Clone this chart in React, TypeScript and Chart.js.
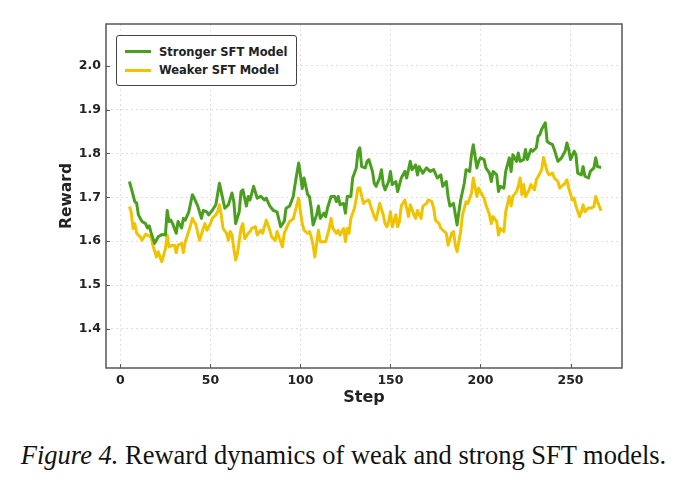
import React, { useEffect, useRef } from "react";
import { Chart, registerables } from "chart.js";

Chart.register(...registerables);

const strongSteps = [5,7,8,9,10,12,14,15,16,17,19,21,23,25,26,27,28,29,31,32,34,35,36,38,40,41,43,45,46,48,49,51,53,55,56,58,60,62,63,64,66,67,68,70,71,72,74,76,78,80,81,83,85,87,89,91,92,94,96,97,99,100,101,102,104,105,106,107,109,110,111,113,114,115,117,119,120,121,122,124,125,126,128,129,131,132,133,134,136,137,138,140,141,142,144,145,146,147,149,150,151,153,154,156,158,159,161,162,164,165,166,168,170,172,174,176,178,179,181,182,183,185,187,188,189,191,192,194,195,196,198,199,200,202,203,205,206,207,209,210,211,213,214,216,217,218,220,221,222,224,225,226,228,229,231,232,233,234,236,237,238,240,241,243,245,247,248,249,250,252,253,254,256,257,258,260,261,263,264,265,267];
const strongValues = [1.736,1.706,1.69,1.687,1.66,1.645,1.64,1.63,1.635,1.62,1.595,1.61,1.615,1.614,1.67,1.645,1.648,1.64,1.618,1.645,1.63,1.652,1.648,1.667,1.706,1.698,1.68,1.652,1.67,1.667,1.66,1.67,1.683,1.732,1.713,1.675,1.683,1.71,1.69,1.64,1.667,1.713,1.717,1.68,1.702,1.694,1.725,1.698,1.702,1.694,1.698,1.68,1.67,1.667,1.633,1.645,1.675,1.68,1.702,1.729,1.778,1.751,1.72,1.744,1.706,1.702,1.675,1.637,1.66,1.68,1.652,1.664,1.656,1.675,1.702,1.702,1.69,1.702,1.683,1.686,1.664,1.702,1.702,1.744,1.767,1.805,1.813,1.77,1.767,1.782,1.786,1.759,1.732,1.725,1.744,1.763,1.729,1.717,1.736,1.759,1.729,1.736,1.713,1.744,1.759,1.744,1.782,1.763,1.774,1.751,1.77,1.755,1.767,1.759,1.763,1.744,1.751,1.725,1.736,1.702,1.68,1.686,1.637,1.667,1.694,1.732,1.763,1.759,1.797,1.82,1.767,1.782,1.79,1.786,1.767,1.755,1.736,1.759,1.751,1.713,1.725,1.721,1.759,1.79,1.759,1.797,1.782,1.801,1.782,1.786,1.809,1.786,1.809,1.805,1.813,1.839,1.843,1.855,1.87,1.828,1.824,1.82,1.809,1.782,1.79,1.805,1.824,1.809,1.786,1.805,1.797,1.755,1.751,1.77,1.748,1.744,1.759,1.767,1.79,1.77,1.768];

const weakSteps = [5,6,7,8,9,11,12,14,15,17,18,20,21,23,24,25,26,27,29,30,31,32,34,35,36,37,39,40,42,43,44,46,47,48,50,51,53,54,55,56,57,59,60,61,62,63,64,65,67,68,69,71,72,73,75,76,78,79,80,81,83,84,86,87,89,90,91,93,94,96,97,99,100,101,102,104,105,106,107,108,109,110,111,113,114,116,117,118,120,121,122,124,125,126,127,128,130,131,132,133,135,136,138,139,141,142,143,144,146,147,148,149,150,151,153,154,155,156,158,159,160,161,163,164,165,167,168,170,171,173,174,175,177,178,180,181,182,184,185,186,187,188,189,190,192,193,195,196,198,199,200,202,203,205,206,207,209,210,211,213,214,216,217,218,220,221,222,223,224,225,227,228,230,231,233,234,235,237,238,240,241,243,244,245,247,248,249,251,252,253,255,256,257,258,260,261,263,264,265,267];
const weakValues = [1.679,1.667,1.629,1.64,1.618,1.61,1.602,1.616,1.614,1.61,1.591,1.564,1.576,1.553,1.568,1.583,1.614,1.587,1.591,1.591,1.574,1.591,1.595,1.574,1.599,1.61,1.637,1.652,1.637,1.618,1.602,1.629,1.64,1.625,1.64,1.652,1.66,1.667,1.683,1.66,1.629,1.618,1.602,1.622,1.614,1.583,1.557,1.572,1.629,1.64,1.606,1.618,1.622,1.629,1.633,1.614,1.625,1.618,1.633,1.648,1.625,1.61,1.602,1.622,1.599,1.587,1.618,1.637,1.645,1.651,1.667,1.698,1.667,1.64,1.625,1.618,1.622,1.61,1.591,1.564,1.595,1.625,1.599,1.599,1.599,1.629,1.652,1.629,1.618,1.625,1.614,1.629,1.599,1.629,1.618,1.652,1.675,1.698,1.721,1.721,1.686,1.69,1.694,1.68,1.656,1.648,1.667,1.686,1.66,1.64,1.633,1.645,1.667,1.633,1.66,1.633,1.645,1.68,1.694,1.675,1.656,1.683,1.66,1.652,1.67,1.652,1.68,1.686,1.694,1.69,1.675,1.648,1.64,1.629,1.622,1.618,1.591,1.618,1.622,1.591,1.576,1.599,1.622,1.66,1.69,1.686,1.709,1.744,1.702,1.721,1.713,1.698,1.683,1.66,1.64,1.656,1.645,1.614,1.629,1.622,1.667,1.702,1.68,1.702,1.713,1.725,1.744,1.706,1.729,1.702,1.717,1.729,1.717,1.74,1.755,1.763,1.791,1.759,1.751,1.755,1.744,1.736,1.721,1.725,1.732,1.74,1.721,1.694,1.698,1.68,1.656,1.667,1.683,1.667,1.676,1.675,1.679,1.702,1.69,1.669];

const xTickValues = [0, 50, 100, 150, 200, 250];
const yTickValues = [1.4, 1.5, 1.6, 1.7, 1.8, 1.9, 2.0];
const seriesLabels = ["Stronger SFT Model", "Weaker SFT Model"];
const xTitle = "Step";
const yTitle = "Reward";
const captionLead = "Figure 4.";
const captionText = " Reward dynamics of weak and strong SFT models.";

const GREEN = "#4a9f1f";
const YELLOW = "#f0c300";
const AXIS_FONT = "'DejaVu Sans', sans-serif";

const zip = (xs: number[], ys: number[]) => xs.map((x, i) => ({ x, y: ys[i] }));

const framePlugin = {
  id: "frame",
  afterDraw(chart: any) {
    const { ctx, chartArea } = chart;
    const { left, right, top, bottom } = chartArea;
    ctx.save();
    ctx.strokeStyle = "#555";
    ctx.lineWidth = 1.5;
    ctx.strokeRect(left, top, right - left, bottom - top);
    ctx.lineWidth = 1;
    const xs = chart.scales.x;
    const ys = chart.scales.y;
    ctx.beginPath();
    xTickValues.forEach((v) => {
      const px = Math.round(xs.getPixelForValue(v)) + 0.5;
      ctx.moveTo(px, bottom);
      ctx.lineTo(px, bottom - 4);
    });
    yTickValues.forEach((v) => {
      const py = Math.round(ys.getPixelForValue(v)) + 0.5;
      ctx.moveTo(left, py);
      ctx.lineTo(left + 4, py);
    });
    ctx.stroke();
    ctx.restore();
  },
};

function ChartView() {
  const ref = useRef<HTMLCanvasElement | null>(null);
  useEffect(() => {
    if (!ref.current) return;
    const grid = {
      color: "#d6d6d6",
      lineWidth: 0.8,
      drawTicks: false,
    };
    const chart = new Chart(ref.current, {
      type: "line",
      data: {
        datasets: [
          {
            label: seriesLabels[0],
            data: zip(strongSteps, strongValues),
            borderColor: GREEN,
            backgroundColor: GREEN,
            borderWidth: 3,
            pointRadius: 0,
            tension: 0,
            borderJoinStyle: "round",
          },
          {
            label: seriesLabels[1],
            data: zip(weakSteps, weakValues),
            borderColor: YELLOW,
            backgroundColor: YELLOW,
            borderWidth: 3,
            pointRadius: 0,
            tension: 0,
            borderJoinStyle: "round",
          },
        ],
      },
      options: {
        responsive: false,
        animation: false,
        layout: { padding: { top: 24, right: 65, left: 0, bottom: 0 } },
        plugins: { legend: { display: false }, tooltip: { enabled: false } },
        scales: {
          x: {
            type: "linear",
            min: -8,
            max: 278.6,
            grid: grid as any,
            border: { display: false, dash: [2, 3] },
            afterBuildTicks: (s: any) => {
              s.ticks = xTickValues.map((v) => ({ value: v }));
            },
            afterFit: (s: any) => {
              s.height = 42;
            },
            ticks: {
              padding: 5,
              color: "#222",
              font: { family: AXIS_FONT, size: 12.5, weight: "bold" },
              callback: (v: any) => String(v),
            },
            title: {
              display: true,
              text: xTitle,
              color: "#222",
              font: { family: AXIS_FONT, size: 16, weight: "bold" },
              padding: { top: 0, bottom: 3 },
            },
          },
          y: {
            type: "linear",
            min: 1.311,
            max: 2.095,
            grid: grid as any,
            border: { display: false, dash: [2, 3] },
            afterBuildTicks: (s: any) => {
              s.ticks = yTickValues.map((v) => ({ value: v }));
            },
            afterFit: (s: any) => {
              s.width = 106;
            },
            ticks: {
              padding: 5,
              color: "#222",
              font: { family: AXIS_FONT, size: 12.5, weight: "bold" },
              callback: (v: any) => Number(v).toFixed(1),
            },
            title: {
              display: true,
              text: yTitle,
              color: "#222",
              font: { family: AXIS_FONT, size: 15.5, weight: "bold" },
              padding: { top: 58, bottom: 0 },
            },
          },
        },
      },
      plugins: [framePlugin],
    });
    return () => chart.destroy();
  }, []);
  return <canvas ref={ref} width={687} height={410} style={{ display: "block" }} />;
}

function Legend() {
  const row = (color: string, label: string, top: number) => (
    <div style={{ position: "absolute", left: 0, top, height: 18, width: "100%" }}>
      <div style={{ position: "absolute", left: 8, top: 7.5, width: 26, height: 3, background: color }} />
      <div
        style={{
          position: "absolute",
          left: 42,
          top: 0,
          lineHeight: "18px",
          fontFamily: AXIS_FONT,
          fontWeight: "bold",
          fontSize: 11.5,
          color: "#222",
          whiteSpace: "nowrap",
        }}
      >
        {label}
      </div>
    </div>
  );
  return (
    <div
      style={{
        position: "absolute",
        left: 116,
        top: 35,
        width: 181,
        height: 51,
        boxSizing: "border-box",
        border: "1px solid #444",
        borderRadius: 3,
        background: "#fff",
      }}
    >
      {row(GREEN, seriesLabels[0], 6.5)}
      {row(YELLOW, seriesLabels[1], 25)}
    </div>
  );
}

export default function App() {
  return (
    <div style={{ position: "absolute", left: 0, top: 0, width: 687, height: 484, background: "#fff" }}>
      <ChartView />
      <Legend />
      <div
        style={{
          position: "absolute",
          left: 0,
          top: 439,
          width: 687,
          lineHeight: "32px",
          textAlign: "center",
          fontFamily: "'Liberation Serif', 'Times New Roman', serif",
          fontSize: 26.5,
          color: "#111",
          whiteSpace: "nowrap",
        }}
      >
        <i>{captionLead}</i>
        {captionText}
      </div>
    </div>
  );
}
